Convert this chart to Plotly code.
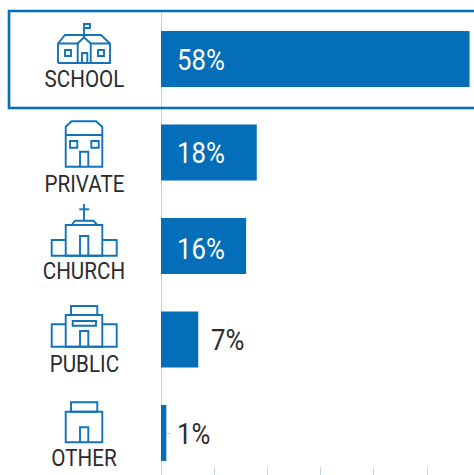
import plotly.graph_objects as go

categories = ["SCHOOL", "PRIVATE", "CHURCH", "PUBLIC", "OTHER"]
shares = [58, 18, 16, 7, 1]
x_ticks = [0, 10, 20, 30, 40, 50]

W, H = 474, 475
BLUE = "#046EB8"
ICON = "#1273B9"
GRID = "#BCD6E8"
INK = "#2B2B2B"
FONT = "Roboto, sans-serif"

X0 = 161
PX_PER_UNIT = 5.32
BAND = 93.5
FIRST = 59
TOP = 12


def px(x, y):
    return x / W, 1 - y / H


def path(points, close=False):
    out = []
    for i, (x, y) in enumerate(points):
        a, b = px(x, y)
        out.append(("M" if i == 0 else "L") + f"{a:.5f},{b:.5f}")
    return " ".join(out) + (" Z" if close else "")


def rect(x0, y0, x1, y1):
    return path([(x0, y0), (x1, y0), (x1, y1), (x0, y1)], True)


icon_paths = [
    # school
    path([(58, 63), (58, 43.5), (65, 35), (101, 35), (110, 43.5), (110, 63), (58, 63)]),
    path([(58, 43.5), (77.7, 43.5), (84, 37.3), (90.7, 43.5), (110, 43.5)]),
    path([(77.7, 43.5), (77.7, 63)]), path([(90.7, 43.5), (90.7, 63)]),
    path([(82, 63), (82, 53), (87.3, 53), (87.3, 63)]),
    rect(65, 50, 71, 56), rect(98, 50, 104, 56),
    path([(84, 37.3), (84, 24), (90, 24), (90, 28), (84, 28)]),
    # private
    path([(65.7, 166.7), (65.7, 126.7), (71.7, 121.3), (96, 121.3), (102.3, 126.7), (102.3, 166.7)], True),
    path([(65.7, 135), (102.3, 135)]),
    path([(80, 166.7), (80, 151.7), (88.3, 151.7), (88.3, 166.7)]),
    rect(70, 141, 77.3, 147.7), rect(91.3, 141, 98.7, 147.7),
    # church
    path([(84, 204), (84, 220.7)]), path([(79.3, 209.3), (89.3, 209.3)]),
    path([(71.7, 225), (75, 220.7), (93.3, 220.7), (97.3, 225)]),
    rect(65.7, 225, 102.3, 255.7),
    path([(65.7, 240), (51.7, 240), (51.7, 255.7), (116.7, 255.7), (116.7, 240), (102.3, 240)]),
    path([(80, 255.7), (80, 236), (88.3, 236), (88.3, 255.7)]),
    # public
    rect(71, 306, 97.3, 315), rect(65.7, 315, 102.3, 346.7),
    path([(65.7, 324.3), (51.7, 324.3), (51.7, 346.7), (116.7, 346.7), (116.7, 324.3), (102.3, 324.3)]),
    rect(72.7, 321, 96, 325.7),
    path([(80, 346.7), (80, 331), (88.3, 331), (88.3, 346.7)]),
    # other
    rect(71, 402.3, 97.3, 411.7), rect(65.7, 411.7, 102.3, 442.3),
    path([(80, 442.3), (80, 427.3), (88.3, 427.3), (88.3, 442.3)]),
]

shapes = [dict(type="path", path=p, xref="paper", yref="paper",
               line=dict(color=ICON, width=1.9), layer="above") for p in icon_paths]
shapes.append(dict(type="path", xref="paper", yref="paper",
                   path=path([(W, 11), (9, 11), (9, 108), (W, 108)]),
                   line=dict(color=BLUE, width=2.6), layer="above"))

label_centres = [79, 184, 271, 364, 458]
value_xshift = [14, 14, 14, 11, 9]
value_yshift = [0, 0, -2, 0, 0]
annotations = []
for name, yc in zip(categories, label_centres):
    a, b = px(84, yc)
    annotations.append(dict(text=name, x=a, y=b, xref="paper", yref="paper",
                            xanchor="center", yanchor="middle", showarrow=False,
                            font=dict(family=FONT, size=24, color=INK)))
for name, v, dx, dy in zip(categories, shares, value_xshift, value_yshift):
    inside = v > 10
    annotations.append(dict(text=f"{v}%", x=0 if inside else v, y=name, xref="x", yref="y",
                            xanchor="left", yanchor="middle", showarrow=False,
                            xshift=dx, yshift=dy,
                            font=dict(family=FONT, size=30, color="#FFFFFF" if inside else INK)))

fig = go.Figure(go.Bar(x=shares, y=categories, orientation="h", width=0.6,
                       marker=dict(color=BLUE, line=dict(width=0)), hoverinfo="skip"))
fig.update_layout(
    width=W, height=H, margin=dict(l=0, r=0, t=0, b=0, pad=0), autosize=False,
    paper_bgcolor="white", plot_bgcolor="white", showlegend=False,
    shapes=shapes, annotations=annotations,
    xaxis=dict(domain=[X0 / W, 1], range=[0, (W - X0) / PX_PER_UNIT], tickmode="array",
               tickvals=x_ticks, ticks="inside", ticklen=8, tickcolor=GRID, tickwidth=1,
               showticklabels=False, showgrid=False, zeroline=False, showline=False),
    yaxis=dict(domain=[0, 1 - TOP / H], anchor="free", position=X0 / W, type="category",
               categoryorder="array", categoryarray=categories, layer="below traces",
               range=[(H - FIRST) / BAND, (TOP - FIRST) / BAND],
               ticks="inside", ticklen=9, tickcolor=GRID, tickwidth=1, showticklabels=False,
               showgrid=False, zeroline=False, showline=True, linecolor=GRID, linewidth=1),
)

# Roboto Condensed is not installed: narrow the real Roboto text horizontally.
post = """
document.body.style.margin='0';
document.documentElement.style.overflow='hidden';
(function(){
  var k=0.86, gd=document.getElementById('{plot_id}');
  function squeeze(){
    gd.querySelectorAll('.annotation text').forEach(function(t){
      if(t.dataset.sq) return;
      var b=t.getBBox(); if(!b.width) return;
      var isValue=t.textContent.indexOf('%')>=0;
      var c=isValue? b.x : b.x+b.width/2;
      t.setAttribute('transform','translate('+c+',0) scale('+k+',1) translate('+(-c)+',0)');
      t.dataset.sq='1';
    });
  }
  squeeze(); setTimeout(squeeze,50); setTimeout(squeeze,300);
})();
"""
fig.write_html("out.html", post_script=post, config=dict(displayModeBar=False, staticPlot=True))
